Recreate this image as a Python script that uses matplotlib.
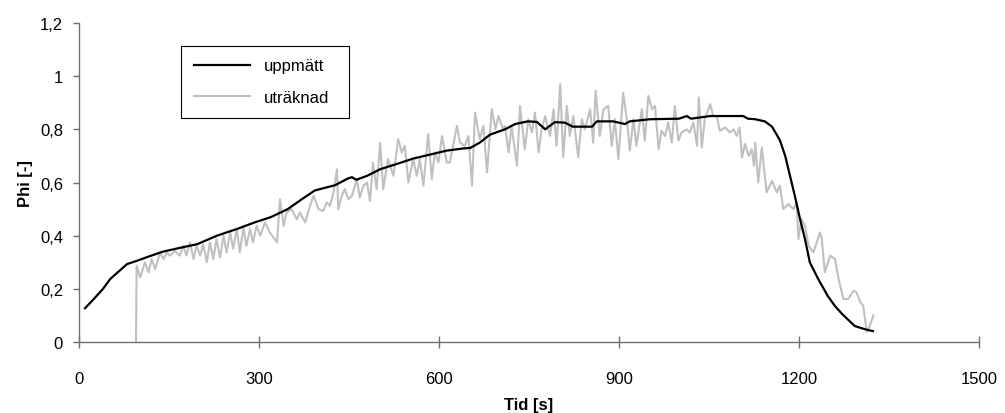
import matplotlib
matplotlib.use("Agg")
import matplotlib.pyplot as plt

plt.rcParams['font.family'] = ['Liberation Sans', 'DejaVu Sans']

# measured (black)
t_meas = [10, 24, 40, 52, 66, 80, 96, 118, 140, 170, 197, 230, 263, 293, 320,
          348, 370, 393, 427, 448, 455, 462, 480, 502, 530, 557, 585, 613, 640,
          652, 668, 685, 710, 727, 748, 763, 777, 793, 810, 823, 855, 863, 890,
          910, 918, 952, 1000, 1013, 1020, 1052, 1107, 1115, 1127, 1143, 1155,
          1168, 1177, 1185, 1193, 1202, 1210, 1218, 1232, 1248, 1260, 1272,
          1293, 1310, 1323]
phi_meas = [0.127, 0.16, 0.20, 0.237, 0.265, 0.293, 0.305, 0.323, 0.34, 0.355,
            0.368, 0.40, 0.425, 0.45, 0.47, 0.50, 0.535, 0.57, 0.59, 0.615,
            0.62, 0.61, 0.625, 0.65, 0.67, 0.69, 0.705, 0.72, 0.728, 0.73,
            0.75, 0.78, 0.80, 0.82, 0.83, 0.828, 0.80, 0.827, 0.825, 0.81,
            0.81, 0.83, 0.83, 0.82, 0.83, 0.838, 0.84, 0.85, 0.84, 0.85, 0.85,
            0.84, 0.838, 0.83, 0.81, 0.76, 0.70, 0.625, 0.55, 0.46, 0.387,
            0.30, 0.237, 0.173, 0.135, 0.105, 0.06, 0.048, 0.041]

# calculated (grey)
t_calc = [95, 96, 102, 110, 116, 121, 127, 135, 141, 146, 152, 160, 168, 174,
          179, 185, 191, 196, 202, 207, 213, 218, 224, 229, 235, 241, 246, 252,
          257, 263, 268, 274, 279, 285, 290, 296, 302, 310, 318, 330, 335, 341,
          346, 354, 363, 368, 377, 385, 391, 399, 407, 413, 418, 424, 430, 432,
          438, 443, 449, 455, 463, 468, 474, 480, 485, 490, 496, 502, 507, 515,
          524, 532, 538, 543, 549, 557, 563, 568, 574, 582, 588, 593, 599, 605,
          613, 618, 630, 635, 643, 649, 655, 660, 668, 674, 680, 688, 694, 699,
          707, 710, 716, 721, 730, 735, 743, 749, 755, 760, 766, 771, 777, 785,
          791, 796, 802, 807, 813, 818, 824, 832, 838, 843, 852, 857, 861, 868,
          874, 882, 888, 893, 899, 907, 913, 918, 924, 929, 938, 943, 949, 955,
          960, 966, 971, 977, 982, 988, 993, 999, 1004, 1013, 1018, 1024, 1030,
          1033, 1038, 1043, 1052, 1057, 1063, 1068, 1077, 1085, 1091, 1096,
          1101, 1105, 1110, 1116, 1121, 1125, 1127, 1132, 1138, 1146, 1155,
          1163, 1168, 1174, 1182, 1191, 1196, 1199, 1204, 1210, 1216, 1224,
          1235, 1238, 1243, 1252, 1260, 1266, 1274, 1282, 1291, 1296, 1302,
          1307, 1313, 1318, 1324]
phi_calc = [0.0, 0.287, 0.243, 0.30, 0.262, 0.312, 0.274, 0.337, 0.312, 0.337,
            0.325, 0.343, 0.325, 0.362, 0.325, 0.375, 0.312, 0.362, 0.325,
            0.368, 0.30, 0.375, 0.312, 0.387, 0.318, 0.40, 0.337, 0.412, 0.35,
            0.425, 0.337, 0.431, 0.362, 0.425, 0.375, 0.437, 0.40, 0.45, 0.412,
            0.375, 0.537, 0.437, 0.487, 0.50, 0.462, 0.487, 0.45, 0.512, 0.55,
            0.50, 0.493, 0.525, 0.512, 0.562, 0.65, 0.50, 0.55, 0.575, 0.537,
            0.55, 0.612, 0.543, 0.587, 0.60, 0.531, 0.675, 0.575, 0.75, 0.575,
            0.688, 0.625, 0.763, 0.713, 0.738, 0.60, 0.688, 0.625, 0.688, 0.588,
            0.782, 0.613, 0.713, 0.675, 0.775, 0.675, 0.675, 0.813, 0.75, 0.738,
            0.775, 0.588, 0.863, 0.763, 0.813, 0.638, 0.876, 0.80, 0.85, 0.80,
            0.813, 0.713, 0.813, 0.663, 0.888, 0.725, 0.838, 0.788, 0.863,
            0.713, 0.80, 0.85, 0.775, 0.875, 0.738, 0.97, 0.695, 0.888, 0.775,
            0.85, 0.695, 0.838, 0.80, 0.875, 0.75, 0.945, 0.775, 0.875, 0.888,
            0.738, 0.838, 0.688, 0.938, 0.838, 0.72, 0.838, 0.738, 0.876,
            0.757, 0.926, 0.876, 0.888, 0.725, 0.795, 0.775, 0.826, 0.75,
            0.888, 0.757, 0.788, 0.80, 0.788, 0.826, 0.738, 0.92, 0.732, 0.838,
            0.895, 0.85, 0.85, 0.795, 0.807, 0.788, 0.80, 0.775, 0.807, 0.694,
            0.745, 0.70, 0.725, 0.663, 0.75, 0.60, 0.732, 0.563, 0.606, 0.563,
            0.588, 0.50, 0.519, 0.50, 0.525, 0.387, 0.462, 0.437, 0.362, 0.337,
            0.412, 0.387, 0.262, 0.325, 0.312, 0.237, 0.162, 0.162, 0.193,
            0.187, 0.15, 0.137, 0.037, 0.062, 0.10]

x_ticks = [0, 300, 600, 900, 1200, 1500]
y_ticks = [0, 0.2, 0.4, 0.6, 0.8, 1.0, 1.2]
y_labels = ['0', '0,2', '0,4', '0,6', '0,8', '1', '1,2']

W, H = 1005, 414
fig = plt.figure(figsize=(W / 100, H / 100), dpi=100)
ax = fig.add_axes([79 / W, 1 - 343 / H, 900 / W, 319 / H])

ax.plot(t_meas, phi_meas, color='black', lw=1.6, label='uppmätt', zorder=3)
ax.plot(t_calc, phi_calc, color='#c0c0c0', lw=1.5, label='uträknad', zorder=2)

ax.set_xlim(0, 1500)
ax.set_ylim(0, 1.2)
ax.set_xticks(x_ticks)
ax.set_xticklabels([str(v) for v in x_ticks])
ax.set_yticks(y_ticks)
ax.set_yticklabels(y_labels)

for s in ['top', 'right']:
    ax.spines[s].set_visible(False)
for s in ['left', 'bottom']:
    ax.spines[s].set_color('#707070')
    ax.spines[s].set_linewidth(1.0)

ax.tick_params(axis='x', direction='inout', length=8, width=1, color='#707070',
               labelsize=12, pad=17)
ax.tick_params(axis='y', direction='out', length=4.5, width=1, color='#707070',
               labelsize=12, pad=7)

ax.set_xlabel('Tid [s]', fontsize=12, fontweight='bold', labelpad=8)
ax.set_ylabel('Phi [-]', fontsize=12, fontweight='bold', labelpad=5)

leg = ax.legend(loc='upper left', bbox_to_anchor=(181 / W, 1 - 124 / H, 168 / W, 77 / H),
                bbox_transform=fig.transFigure, mode='expand', fancybox=False,
                edgecolor='black', framealpha=1, fontsize=12, handlelength=3.4,
                labelspacing=1.0, borderpad=0.75, borderaxespad=0)
leg.get_frame().set_linewidth(0.8)

fig.savefig('out.png', dpi=100)
